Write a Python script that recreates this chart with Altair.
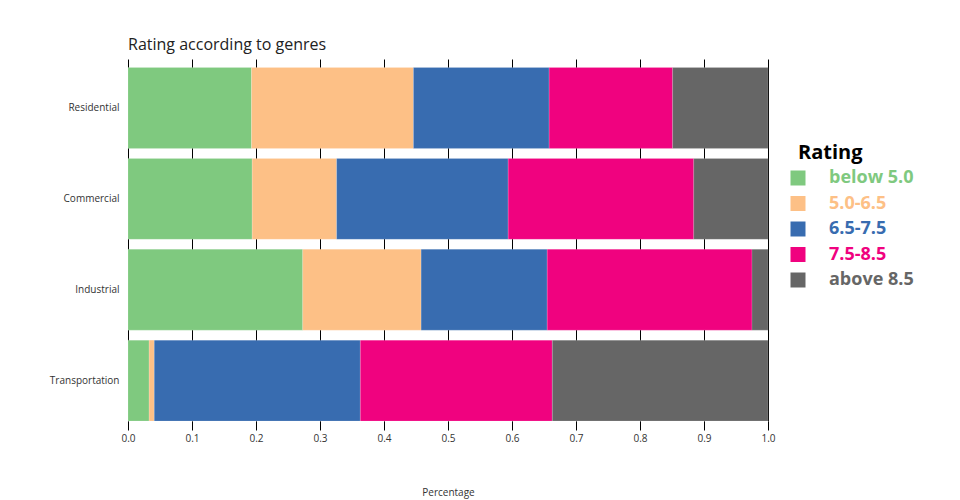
import altair as alt
import pandas as pd

genres = ["Residential", "Commercial", "Industrial", "Transportation"]
ratings = ["below 5.0", "5.0-6.5", "6.5-7.5", "7.5-8.5", "above 8.5"]
colors = ["#7fc97f", "#fdc086", "#386cb0", "#f0027f", "#666666"]

below_5 = [0.193, 0.194, 0.273, 0.033]
r5_65 = [0.253, 0.132, 0.185, 0.008]
r65_75 = [0.212, 0.268, 0.197, 0.322]
r75_85 = [0.193, 0.290, 0.320, 0.300]
above_85 = [0.149, 0.116, 0.025, 0.337]

series = [below_5, r5_65, r65_75, r75_85, above_85]
rows = []
for i, (rating, vals) in enumerate(zip(ratings, series)):
    for g, v in zip(genres, vals):
        rows.append({"Genre": g, "Rating": rating, "Percentage": v, "order": i})
df = pd.DataFrame(rows)

FONT = "Open Sans"

chart = alt.Chart(df).mark_bar(
    stroke="white", strokeWidth=0.5, strokeOpacity=0.3
).encode(
    x=alt.X(
        "Percentage:Q",
        stack="zero",
        scale=alt.Scale(domain=[0, 1], nice=False),
        axis=alt.Axis(
            values=[i / 10 for i in range(11)],
            format=".1f",
            grid=True,
            gridColor="black",
            gridOpacity=1,
            gridWidth=1,
            domain=False,
            tickColor="black",
            tickSize=9,
            labelFlush=False,
            labelFontSize=10,
            labelColor="#333",
            labelFont=FONT,
            labelPadding=3,
            title="Percentage",
            titleFont=FONT,
            titleFontSize=10,
            titleFontWeight="normal",
            titleColor="#333",
            titlePadding=44,
        ),
    ),
    y=alt.Y(
        "Genre:N",
        sort=genres,
        scale=alt.Scale(paddingInner=0.11, paddingOuter=0.047, align=1),
        axis=alt.Axis(
            title=None,
            ticks=False,
            domain=False,
            labelFontSize=10,
            labelColor="#333",
            labelFont=FONT,
            labelPadding=9,
            minExtent=115,
            maxExtent=115,
        ),
    ),
    color=alt.Color(
        "Rating:N",
        sort=ratings,
        scale=alt.Scale(domain=ratings, range=colors),
        legend=alt.Legend(
            title="Rating",
            orient="none",
            legendX=670,
            legendY=84,
            titleFont=FONT,
            titleFontSize=20,
            titleFontWeight="bold",
            titleColor="black",
            titlePadding=6,
            labelFont=FONT,
            labelFontSize=18,
            labelFontWeight="bold",
            labelOffset=22,
            labelColor=alt.ExprRef("scale('color', datum.value)"),
            symbolType="square",
            symbolSize=225,
            symbolStrokeWidth=0,
            symbolOpacity=1,
            symbolOffset=-9,
            rowPadding=7.5,
            labelLimit=300,
        ),
    ),
    order=alt.Order("order:Q", sort="ascending"),
).properties(
    width=640,
    height=362,
    title=alt.TitleParams(
        "Rating according to genres",
        anchor="start",
        frame="group",
        font=FONT,
        fontSize=16,
        fontWeight="normal",
        color="#222",
        offset=6,
    ),
    padding={"left": 5, "top": 29, "right": 5, "bottom": 5},
).configure_view(stroke=None)

chart.save("out.html", embed_options={"renderer": "svg", "actions": False})
